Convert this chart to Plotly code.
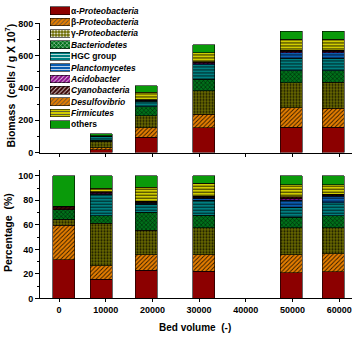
import plotly.graph_objects as go

W, H = 354, 339

# ---------------- data ----------------
bed_volume = [1000, 9000, 18700, 31000, 49700, 58700]
x_ticks = [0, 10000, 20000, 30000, 40000, 50000, 60000]
x_tick_labels = ["0", "10000", "20000", "30000", "40000", "50000", "60000"]

group_names = ["α-Proteobacteria", "β-Proteobacteria", "γ-Proteobacteria", "Bacteriodetes",
               "HGC group", "Planctomycetes", "Acidobacter", "Cyanobacteria",
               "Desulfovibrio", "Firmicutes", "others"]
group_labels = ["α-<i>Proteobacteria</i>", "β-<i>Proteobacteria</i>", "γ-<i>Proteobacteria</i>",
                "<i>Bacteriodetes</i>", "HGC group", "<i>Planctomycetes</i>", "<i>Acidobacter</i>",
                "<i>Cyanobacteria</i>", "<i>Desulfovibrio</i>", "<i>Firmicutes</i>", "others"]

# Biomass (cells / g x 10^7)
bio_alpha = [None, 18, 94, 152, 156, 156]
bio_beta = [None, 12, 60, 86, 121, 117]
bio_gamma = [None, 40, 74, 145, 156, 164]
bio_bact = [None, 7, 56, 70, 74, 70]
bio_hgc = [None, 20, 34, 90, 76, 76]
bio_planct = [None, 1, 3, 8, 34, 34]
bio_acido = [None, 1, 3, 4, 6, 6]
bio_cyano = [None, 1, 4, 8, 10, 10]
bio_desulfo = [None, 0, 0, 0, 0, 0]
bio_firm = [None, 4, 46, 54, 70, 70]
bio_others = [None, 11, 40, 52, 50, 50]

# Percentage (%)
pct_alpha = [31.5, 15.5, 23.0, 22.0, 21.0, 21.6]
pct_beta = [28.0, 11.0, 12.6, 13.6, 14.6, 15.0]
pct_gamma = [5.0, 35.0, 19.8, 22.2, 22.2, 21.0]
pct_bact = [8.0, 6.0, 15.0, 10.0, 8.2, 10.0]
pct_hgc = [0.0, 17.5, 6.6, 12.4, 8.4, 10.6]
pct_planct = [0.0, 0.5, 0.5, 1.5, 5.8, 5.2]
pct_acido = [0.0, 0.5, 0.5, 0.5, 1.0, 0.5]
pct_cyano = [2.5, 1.0, 1.2, 1.0, 1.9, 1.0]
pct_desulfo = [0.0, 0.0, 0.0, 0.0, 0.0, 0.0]
pct_firm = [0.0, 3.0, 11.6, 10.6, 9.8, 7.9]
pct_others = [25.0, 10.0, 9.2, 6.3, 7.1, 7.1]

biomass = [bio_alpha, bio_beta, bio_gamma, bio_bact, bio_hgc, bio_planct,
           bio_acido, bio_cyano, bio_desulfo, bio_firm, bio_others]
percent = [pct_alpha, pct_beta, pct_gamma, pct_bact, pct_hgc, pct_planct,
           pct_acido, pct_cyano, pct_desulfo, pct_firm, pct_others]

# ---------------- styles ----------------
bg_colors = ["#8c0000", "#e67e00", "#6a6a00", "#00701a", "#007f80", "#0a5cb0",
             "#8a0a8a", "#3a0505", "#e67e00", "#d0cc00", "#0a9a0a"]
shapes_ = ["", "/", ".", "x", "-", "-", "/", "/", "/", "-", ""]
pat_size = [4, 3, 3, 3, 3, 3, 3, 3, 3, 3, 4]
pat_solid = [0.3, 0.3, 0.4, 0.3, 0.3, 0.3, 0.3, 0.3, 0.3, 0.35, 0.3]

FONT = "Liberation Sans"


def px_x(p):
    return p / W


def px_y(p):
    return 1 - p / H


BAR_W = 4700
fig = go.Figure()

for i, name in enumerate(group_names):
    pat = dict(shape=shapes_[i], fgcolor="black", bgcolor=bg_colors[i],
               size=pat_size[i], solidity=pat_solid[i], fillmode="overlay", fgopacity=0.8)
    mk = dict(color=bg_colors[i], pattern=pat, line=dict(color="black", width=0.6))
    fig.add_trace(go.Bar(x=bed_volume, y=biomass[i], name=name, width=BAR_W,
                         marker=mk, xaxis="x", yaxis="y", showlegend=False))
    fig.add_trace(go.Bar(x=bed_volume, y=percent[i], name=name, width=BAR_W,
                         marker=mk, xaxis="x2", yaxis="y2", showlegend=False))

# legend swatches drawn as a small horizontal-bar subplot
legend_pos = list(range(len(group_names)))
fig.add_trace(go.Bar(
    x=[1] * len(group_names), y=legend_pos, orientation="h", width=0.68,
    marker=dict(color=bg_colors,
                pattern=dict(shape=shapes_, fgcolor="black", bgcolor=bg_colors,
                             size=pat_size, solidity=pat_solid, fillmode="overlay",
                             fgopacity=0.8),
                line=dict(color="black", width=0.6)),
    xaxis="x3", yaxis="y3", showlegend=False, hoverinfo="skip"))

xdom = [px_x(40), px_x(352)]
xrange_ = [-4070, 62740]
axis_common = dict(showline=True, linecolor="black", linewidth=1, ticks="outside",
                   tickcolor="black", showgrid=False, zeroline=False,
                   tickfont=dict(family=FONT, size=9, color="black", weight="bold"))

fig.update_layout(
    width=W, height=H,
    margin=dict(l=0, r=0, t=0, b=0),
    paper_bgcolor="white", plot_bgcolor="white",
    barmode="stack", showlegend=False,
    font=dict(family=FONT, color="black"),
    xaxis=dict(domain=xdom, range=xrange_, anchor="y", tickvals=x_ticks,
               showticklabels=False, ticklen=3, **axis_common),
    yaxis=dict(domain=[px_y(152), px_y(19)], range=[0, 800], anchor="x",
               tickvals=[0, 200, 400, 600, 800], ticklen=4,
               minor=dict(tickvals=[100, 300, 500, 700], ticks="outside", ticklen=2,
                          tickcolor="black"),
               **axis_common),
    xaxis2=dict(domain=xdom, range=xrange_, anchor="y2", tickvals=x_ticks,
                ticktext=x_tick_labels, ticklen=3, **axis_common),
    yaxis2=dict(domain=[px_y(302.3), px_y(169.7)], range=[0, 105], anchor="x2",
                tickvals=[0, 20, 40, 60, 80, 100], ticklen=4,
                minor=dict(tickvals=[10, 30, 50, 70, 90], ticks="outside", ticklen=2,
                           tickcolor="black"),
                **axis_common),
    xaxis3=dict(domain=[px_x(50), px_x(70)], range=[0, 1], anchor="y3", visible=False),
    yaxis3=dict(domain=[px_y(129), 1.0], range=[10.5, -0.5], anchor="x3", side="right",
                tickvals=legend_pos, ticktext=group_labels, showline=False,
                showgrid=False, zeroline=False, ticks="",
                tickfont=dict(family=FONT, size=8.5, color="black", weight="bold")),
    annotations=[
        dict(text="Biomass  (cells / g X 10<sup>7</sup>)", x=px_x(10), y=px_y(83),
             xref="paper", yref="paper", textangle=-90, showarrow=False,
             xanchor="center", yanchor="middle",
             font=dict(family=FONT, size=10.5, color="black", weight="bold")),
        dict(text="Percentage  (%)", x=px_x(8), y=px_y(235),
             xref="paper", yref="paper", textangle=-90, showarrow=False,
             xanchor="center", yanchor="middle",
             font=dict(family=FONT, size=10.5, color="black", weight="bold")),
        dict(text="Bed volume  (-)", x=px_x(195), y=px_y(332),
             xref="paper", yref="paper", showarrow=False,
             xanchor="center", yanchor="middle",
             font=dict(family=FONT, size=10, color="black", weight="bold")),
    ],
)

fig.write_html("out.html")
